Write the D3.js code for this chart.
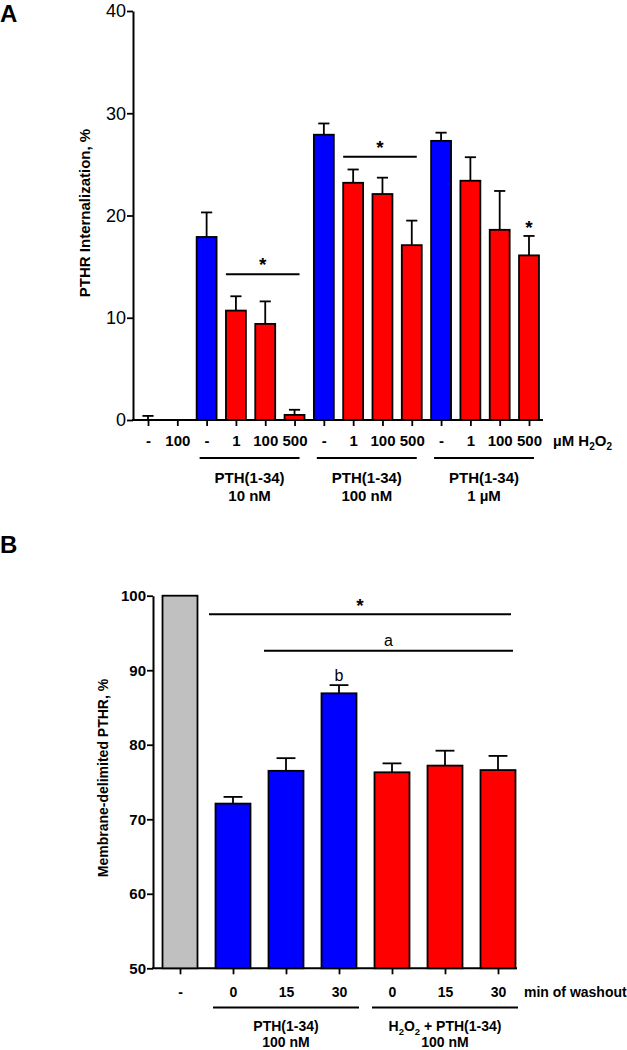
<!DOCTYPE html>
<html>
<head>
<meta charset="utf-8">
<script src="https://cdn.jsdelivr.net/npm/d3@7"></script>
<style>
  html, body { margin: 0; padding: 0; background: #fff; }
  svg { display: block; font-family: "Liberation Sans", Arial, sans-serif; }
</style>
</head>
<body>
<svg id="chart" width="627" height="1050"></svg>
<script>
// ---------- Panel A data ----------
const catsA  = ["-", "100", "-", "1", "100", "500", "-", "1", "100", "500", "-", "1", "100", "500"];
const typeA  = ["ctrl", "ctrl", "pth", "h2o2", "h2o2", "h2o2", "pth", "h2o2", "h2o2", "h2o2", "pth", "h2o2", "h2o2", "h2o2"];
const valsA  = [0, 0, 17.9, 10.7, 9.4, 0.5, 27.9, 23.2, 22.1, 17.1, 27.3, 23.4, 18.6, 16.1];
const errA   = [0.4, 0, 2.4, 1.4, 2.2, 0.5, 1.1, 1.3, 1.6, 2.4, 0.8, 2.3, 3.8, 1.9];
const ticksA = [0, 10, 20, 30, 40];
const groupsA = [
  { from: 2, to: 5, line1: "PTH(1-34)", line2: "10 nM" },
  { from: 6, to: 9, line1: "PTH(1-34)", line2: "100 nM" },
  { from: 10, to: 13, line1: "PTH(1-34)", line2: "1 µM" }
];
const sigA = [
  { from: 3, to: 5, y: 14.25, label: "*" },
  { from: 7, to: 9, y: 25.75, label: "*" }
];
const starA = [{ at: 13, y: 19.2, label: "*" }];

// ---------- Panel B data ----------
const catsB  = ["-", "0", "15", "30", "0", "15", "30"];
const typeB  = ["ctrl", "pth", "pth", "pth", "h2o2", "h2o2", "h2o2"];
const valsB  = [100, 72.1, 76.5, 86.9, 76.3, 77.2, 76.6];
const errB   = [0.1, 0.9, 1.7, 1.1, 1.2, 2.0, 1.9];
const ticksB = [50, 60, 70, 80, 90, 100];
const groupsB = [
  { from: 1, to: 3, line1: "PTH(1-34)", line2: "100 nM" },
  { from: 4, to: 6, line1: "H2O2 + PTH(1-34)", line2: "100 nM" }
];
const sigB = [
  { from: 1, to: 6, y: 97.5, label: "*" },
  { from: 2, to: 6, y: 92.6, label: "a" }
];
const letterB = [{ at: 3, y: 89.4, label: "b" }];

const colors = { ctrl: "#c0c0c0", pth: "#0000ff", h2o2: "#ff0000" };

const svg = d3.select("#chart");

function subscripted(sel, str, size) {
  // render "H2O2" style chemical subscripts
  const parts = str.split(/(2)(?=O|\s|$)/);
  sel.text(null);
  let sub = false;
  str.replace(/H2O2/g, "\u0000").split(/(\u0000)/).forEach(p => {
    if (p === "\u0000") {
      sel.append("tspan").text("H");
      sel.append("tspan").attr("font-size", size * 0.68).attr("dy", size * 0.28).text("2");
      sel.append("tspan").attr("dy", -size * 0.28).text("O");
      sel.append("tspan").attr("font-size", size * 0.68).attr("dy", size * 0.28).text("2");
      sub = true;
    } else if (p.length) {
      const t = sel.append("tspan").text(p);
      if (sub) { t.attr("dy", -size * 0.28); sub = false; }
    }
  });
}

// =============== PANEL A =================
(function () {
  const axisX = 133, y0 = 420, yTop = 11;
  const x = d3.scalePoint().domain(d3.range(catsA.length)).range([148, 529]);
  const y = d3.scaleLinear().domain([0, 40]).range([y0, yTop]);
  const bw = x.step() * 0.68;
  const g = svg.append("g");

  svg.append("text").attr("x", 0).attr("y", 22).attr("font-size", 24)
    .attr("font-weight", "bold").text("A");

  // y-axis
  const ya = g.append("g").attr("transform", `translate(${axisX},0)`)
    .call(d3.axisLeft(y).tickValues(ticksA).tickSize(6).tickPadding(1).tickSizeOuter(0));
  ya.select(".domain").attr("stroke-width", 2);
  ya.selectAll(".tick line").attr("stroke-width", 1.8);
  ya.selectAll(".tick text").attr("font-size", 18).attr("fill", "#000")
    .attr("font-family", "Liberation Sans, Arial, sans-serif");

  // x-axis ticks
  const xa = g.append("g").attr("transform", `translate(0,${y0})`)
    .call(d3.axisBottom(x).tickSize(6).tickFormat(i => catsA[i]).tickPadding(9));
  xa.select(".domain").remove();
  xa.selectAll(".tick line").attr("stroke-width", 1.8);
  xa.selectAll(".tick text").attr("font-size", 15).attr("font-weight", "bold").attr("fill", "#000")
    .attr("font-family", "Liberation Sans, Arial, sans-serif");
  g.append("line").attr("x1", axisX - 1).attr("x2", x(catsA.length - 1) + 14)
    .attr("y1", y0).attr("y2", y0).attr("stroke", "#000").attr("stroke-width", 2);

  // bars
  const idx = d3.range(catsA.length);
  g.selectAll("rect.bar").data(idx.filter(i => valsA[i] > 0)).join("rect")
    .attr("x", i => x(i) - bw / 2).attr("width", bw)
    .attr("y", i => y(valsA[i])).attr("height", i => y(0) - y(valsA[i]))
    .attr("fill", i => colors[typeA[i]]).attr("stroke", "#000").attr("stroke-width", 1.8);

  // error bars
  const eb = g.selectAll("g.err").data(idx.filter(i => errA[i] > 0)).join("g");
  eb.append("line").attr("x1", i => x(i)).attr("x2", i => x(i))
    .attr("y1", i => y(valsA[i])).attr("y2", i => y(valsA[i] + errA[i]))
    .attr("stroke", "#000").attr("stroke-width", 1.8);
  eb.append("line").attr("x1", i => x(i) - bw * 0.28).attr("x2", i => x(i) + bw * 0.28)
    .attr("y1", i => y(valsA[i] + errA[i])).attr("y2", i => y(valsA[i] + errA[i]))
    .attr("stroke", "#000").attr("stroke-width", 1.8);

  // significance
  sigA.forEach(s => {
    const x1 = x(s.from) - 10, x2 = x(s.to) + 5;
    g.append("line").attr("x1", x1).attr("x2", x2).attr("y1", y(s.y)).attr("y2", y(s.y))
      .attr("stroke", "#000").attr("stroke-width", 2);
    g.append("text").attr("x", (x1 + x2) / 2).attr("y", y(s.y) - 3).attr("text-anchor", "middle")
      .attr("font-size", 19).attr("font-weight", "bold").text(s.label);
  });
  starA.forEach(s => {
    g.append("text").attr("x", x(s.at)).attr("y", y(s.y) + 10).attr("text-anchor", "middle")
      .attr("font-size", 19).attr("font-weight", "bold").text(s.label);
  });

  // unit label
  const u = g.append("text").attr("x", 553).attr("y", 446).attr("font-size", 15).attr("font-weight", "bold");
  u.append("tspan").text("µM ");
  u.append("tspan").text("H");
  u.append("tspan").attr("font-size", 10).attr("dy", 4).text("2");
  u.append("tspan").attr("dy", -4).text("O");
  u.append("tspan").attr("font-size", 10).attr("dy", 4).text("2");

  // groups
  groupsA.forEach(gr => {
    const x1 = x(gr.from) - 7, x2 = x(gr.to) + 5, cx = (x1 + x2) / 2;
    g.append("line").attr("x1", x1).attr("x2", x2).attr("y1", 458).attr("y2", 458)
      .attr("stroke", "#000").attr("stroke-width", 2);
    g.append("text").attr("x", cx).attr("y", 483).attr("text-anchor", "middle")
      .attr("font-size", 15).attr("font-weight", "bold").text(gr.line1);
    g.append("text").attr("x", cx).attr("y", 501).attr("text-anchor", "middle")
      .attr("font-size", 15).attr("font-weight", "bold").text(gr.line2);
  });

  // y title
  g.append("text").attr("transform", "translate(90,213) rotate(-90)").attr("text-anchor", "middle")
    .attr("font-size", 15).attr("font-weight", "bold").text("PTHR Internalization, %");
})();

// =============== PANEL B =================
(function () {
  const axisX = 153, y0 = 968.3, yTop = 595.7;
  const x = d3.scalePoint().domain(d3.range(catsB.length)).range([180, 498]);
  const y = d3.scaleLinear().domain([50, 100]).range([y0, yTop]);
  const bw = x.step() * 0.66;
  const g = svg.append("g");

  svg.append("text").attr("x", 0).attr("y", 553).attr("font-size", 24)
    .attr("font-weight", "bold").text("B");

  const ya = g.append("g").attr("transform", `translate(${axisX},0)`)
    .call(d3.axisLeft(y).tickValues(ticksB).tickSize(6).tickPadding(1).tickSizeOuter(0));
  ya.select(".domain").attr("stroke-width", 2);
  ya.selectAll(".tick line").attr("stroke-width", 1.8);
  ya.selectAll(".tick text").attr("font-size", 15).attr("font-weight", "bold").attr("fill", "#000")
    .attr("font-family", "Liberation Sans, Arial, sans-serif");

  const xa = g.append("g").attr("transform", `translate(0,${y0})`)
    .call(d3.axisBottom(x).tickSize(6).tickFormat(i => catsB[i]).tickPadding(13));
  xa.select(".domain").remove();
  xa.selectAll(".tick line").attr("stroke-width", 1.8);
  xa.selectAll(".tick text").attr("font-size", 14).attr("font-weight", "bold").attr("fill", "#000")
    .attr("font-family", "Liberation Sans, Arial, sans-serif");
  g.append("line").attr("x1", axisX - 1).attr("x2", x(catsB.length - 1) + 19)
    .attr("y1", y0).attr("y2", y0).attr("stroke", "#000").attr("stroke-width", 2);

  const idx = d3.range(catsB.length);
  g.selectAll("rect.bar").data(idx).join("rect")
    .attr("x", i => x(i) - bw / 2).attr("width", bw)
    .attr("y", i => y(valsB[i])).attr("height", i => y(50) - y(valsB[i]))
    .attr("fill", i => colors[typeB[i]]).attr("stroke", "#000").attr("stroke-width", 1.8);

  const eb = g.selectAll("g.err").data(idx).join("g");
  eb.append("line").attr("x1", i => x(i)).attr("x2", i => x(i))
    .attr("y1", i => y(valsB[i])).attr("y2", i => y(valsB[i] + errB[i]))
    .attr("stroke", "#000").attr("stroke-width", 1.8);
  eb.filter(i => errB[i] > 0.3).append("line")
    .attr("x1", i => x(i) - bw * 0.27).attr("x2", i => x(i) + bw * 0.27)
    .attr("y1", i => y(valsB[i] + errB[i])).attr("y2", i => y(valsB[i] + errB[i]))
    .attr("stroke", "#000").attr("stroke-width", 1.8);

  sigB.forEach((s, k) => {
    const x1 = x(s.from) - 24 + k * 2, x2 = x(s.to) + 13 + k * 2;
    g.append("line").attr("x1", x1).attr("x2", x2).attr("y1", y(s.y)).attr("y2", y(s.y))
      .attr("stroke", "#000").attr("stroke-width", 2);
    g.append("text").attr("x", (x1 + x2) / 2).attr("y", y(s.y) - (s.label === "*" ? 2 : 5))
      .attr("text-anchor", "middle")
      .attr("font-size", s.label === "*" ? 19 : 16).attr("font-weight", s.label === "*" ? "bold" : "normal")
      .text(s.label);
  });
  letterB.forEach(s => {
    g.append("text").attr("x", x(s.at)).attr("y", y(s.y) + 6).attr("text-anchor", "middle")
      .attr("font-size", 16).text(s.label);
  });

  g.append("text").attr("x", 524).attr("y", 997).attr("font-size", 14).attr("font-weight", "bold")
    .text("min of washout");

  groupsB.forEach(gr => {
    const x1 = x(gr.from) - 20, x2 = x(gr.to) + 20, cx = (x1 + x2) / 2;
    g.append("line").attr("x1", x1).attr("x2", x2).attr("y1", 1007.5).attr("y2", 1007.5)
      .attr("stroke", "#000").attr("stroke-width", 2);
    const t1 = g.append("text").attr("x", cx).attr("y", 1031).attr("text-anchor", "middle")
      .attr("font-size", 14).attr("font-weight", "bold");
    subscripted(t1, gr.line1, 14);
    g.append("text").attr("x", cx).attr("y", 1047).attr("text-anchor", "middle")
      .attr("font-size", 14).attr("font-weight", "bold").text(gr.line2);
  });

  g.append("text").attr("transform", "translate(108,778) rotate(-90)").attr("text-anchor", "middle")
    .attr("font-size", 14).attr("font-weight", "bold").text("Membrane-delimited PTHR, %");
})();
</script>
</body>
</html>
